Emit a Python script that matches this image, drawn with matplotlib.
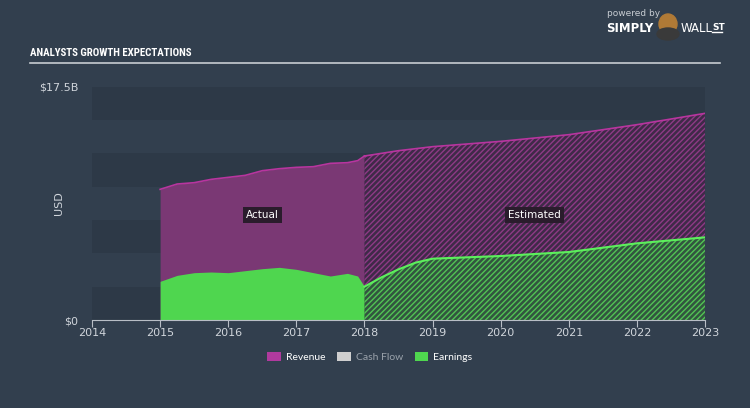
import matplotlib.pyplot as plt
from matplotlib.patches import Patch, Ellipse
import matplotlib as mpl

# --- data (USD billions) ---
act_years = [2015.0, 2015.25, 2015.5, 2015.75, 2016.0, 2016.25, 2016.5, 2016.75,
             2017.0, 2017.25, 2017.5, 2017.75, 2017.9, 2018.0]
act_revenue = [9.8, 10.2, 10.3, 10.55, 10.7, 10.85, 11.2, 11.35,
               11.45, 11.5, 11.75, 11.8, 11.95, 12.3]
act_earnings = [2.9, 3.35, 3.55, 3.6, 3.55, 3.7, 3.85, 3.95,
                3.8, 3.55, 3.3, 3.5, 3.3, 2.5]

est_years = [2018.0, 2018.25, 2018.5, 2018.75, 2019.0, 2020.0, 2021.0, 2022.0, 2023.0]
est_revenue = [12.3, 12.5, 12.7, 12.85, 13.0, 13.4, 13.9, 14.65, 15.5]
est_earnings = [2.5, 3.2, 3.8, 4.3, 4.6, 4.8, 5.1, 5.75, 6.2]

x_ticks = list(range(2014, 2024))
y_ticks = [0, 17.5]
y_labels = ['$0', '$17.5B']
legend_names = ['Revenue', 'Cash Flow', 'Earnings']

bg = '#323f4e'
band_dark = '#2d3947'
rev_fill = '#7a3874'
rev_line = '#b8359f'
earn_fill = '#4fd64f'
earn_line = '#5cf05c'
txt = '#d0d5db'

mpl.rcParams['hatch.linewidth'] = 1.0

fig = plt.figure(figsize=(7.5, 4.08), dpi=100, facecolor=bg)
ax = fig.add_axes([92 / 750, 1 - 320 / 408, 613 / 750, 233.3 / 408])
ax.set_facecolor(bg)
ax.set_xlim(2014, 2023)
ax.set_ylim(0, 17.5)

# horizontal background bands
for i in range(7):
    if i % 2 == 0:
        ax.axhspan(i * 2.5, (i + 1) * 2.5, color=band_dark, lw=0, zorder=0)

# actual
ax.fill_between(act_years, 0, act_revenue, color=rev_fill, lw=0, zorder=1)
ax.plot(act_years, act_revenue, color=rev_line, lw=1.2, zorder=3)
ax.fill_between(act_years, 0, act_earnings, color=earn_fill, lw=0, zorder=2)

# estimated (hatched)
ax.fill_between(est_years, est_earnings, est_revenue, facecolor='#3f2a48',
                edgecolor='#8e3a86', hatch='//////', lw=0, zorder=1)
ax.plot(est_years, est_revenue, color=rev_line, lw=1.2, zorder=3)
ax.fill_between(est_years, 0, est_earnings, facecolor='#32553f',
                edgecolor='#52c454', hatch='//////', lw=0, zorder=2)
ax.plot(est_years, est_earnings, color=earn_line, lw=1.5, zorder=3)

box = dict(boxstyle='square,pad=0.3', fc='#2a1c2c', ec='none')
ax.text(2016.5, 7.9, 'Actual', color='white', fontsize=7.5,
        ha='center', va='center', bbox=box, zorder=5)
ax.text(2020.5, 7.9, 'Estimated', color='white', fontsize=7.5,
        ha='center', va='center', bbox=box, zorder=5)

for s in ['top', 'right', 'left']:
    ax.spines[s].set_visible(False)
ax.spines['bottom'].set_color('#b8bec6')
ax.set_xticks(x_ticks)
ax.set_xticklabels([str(y) for y in x_ticks])
ax.set_yticks(y_ticks)
ax.set_yticklabels(y_labels)
ax.tick_params(axis='x', colors='#b8bec6', labelcolor=txt, labelsize=8, length=5, pad=1)
ax.tick_params(axis='y', length=0, labelcolor=txt, labelsize=8, pad=10)
ax.set_ylabel('USD', color=txt, fontsize=8)
ax.yaxis.set_label_coords(-(92 - 64) / 613, 0.5)

# title and rule
fig.text(30 / 750, 1 - 53 / 408, 'ANALYSTS GROWTH EXPECTATIONS', color='white',
         fontsize=7.8, fontweight='bold', va='center',
         family=['Liberation Sans Narrow', 'DejaVu Sans Condensed', 'Roboto Condensed',
                 'DejaVu Sans'])
fig.add_artist(plt.Line2D([30 / 750, 720 / 750], [1 - 63 / 408, 1 - 63 / 408],
                          color='#c7ccd2', lw=1.2))

# branding
fig.text(607 / 750, 1 - 14 / 408, 'powered by', color='#c7ccd2', fontsize=6.5, va='center')
fig.text(606 / 750, 1 - 28 / 408, 'SIMPLY', color='white', fontsize=8.5,
         fontweight='bold', va='center')
fig.add_artist(Ellipse((668 / 750, 1 - 24 / 408), 18 / 750, 20 / 408,
                       color='#b07a36', transform=fig.transFigure))
fig.add_artist(Ellipse((668 / 750, 1 - 34 / 408), 22 / 750, 12 / 408,
                       color='#3a3a3a', transform=fig.transFigure))
fig.text(681 / 750, 1 - 28 / 408, 'WALL', color='white', fontsize=8.5, va='center')
fig.text(712 / 750, 1 - 27 / 408, 'ST', color='white', fontsize=6.5, fontweight='bold',
         va='center')
fig.add_artist(plt.Line2D([712 / 750, 722 / 750], [1 - 32 / 408, 1 - 32 / 408],
                          color='white', lw=1))

# legend
handles = [Patch(fc='#b03a9e', ec='none'), Patch(fc='#cfcfcf', ec='none'),
           Patch(fc='#4fd64f', ec='none')]
leg = fig.legend(handles, legend_names, loc='center', bbox_to_anchor=(370 / 750, 1 - 357 / 408),
                 ncol=3, frameon=False, prop={'family': 'Lato', 'size': 7.5},
                 handlelength=1.3, handleheight=1.0,
                 columnspacing=1.1, handletextpad=0.5)
for t, c in zip(leg.get_texts(), ['white', '#9aa2ab', 'white']):
    t.set_color(c)

fig.savefig('out.png', dpi=100, facecolor=bg)
